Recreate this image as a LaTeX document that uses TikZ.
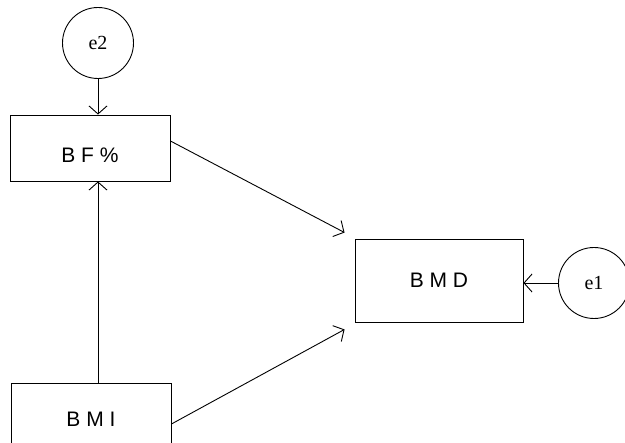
\documentclass[tikz,border=0pt]{standalone}
\usepackage{fontspec}
\setmainfont{Liberation Serif}
\setsansfont{Liberation Sans}
\usetikzlibrary{arrows.meta,shapes,positioning}
\tikzstyle{var} = [shape=rectangle, draw, anchor=center,
		line width=0.9pt, align=center,
		font=\sffamily\fontsize{21}{24}\selectfont]
\tikzstyle{err} = [shape=circle, draw, anchor=center,
		line width=0.9pt, minimum size=71pt, inner sep=0pt,
		font=\fontsize{20}{24}\selectfont]

\begin{document}
\begin{tikzpicture}[x=1pt, y=-1pt]
	\useasboundingbox (0,0) rectangle (625,443);
	\node[err] (e2) at (98,43) {e2};
	\node[var, minimum width=160pt, minimum height=66pt,
		text height=29pt, text depth=0pt] (bf) at (90,148) {B F \%};
	\node[var, minimum width=168pt, minimum height=83pt] (bmd) at (439,280.5) {B M D};
	\node[err] (e1) at (594,283) {e1};
	\node[var, minimum width=160pt, minimum height=66pt,
		text height=22pt, text depth=0pt] (bmi) at (91,416) {B M I};

	\path [line width=0.9pt, >={Straight Barb[length=8pt,width=18pt]}, ->]
		(e2.south) edge (e2.south |- bf.north)
		(bmi.north -| e2.south) edge (bf.south -| e2.south)
		([yshift=7pt]bf.east) edge ([xshift=-10pt,yshift=6pt]bmd.north west)
		([yshift=-8pt]bmi.east) edge ([xshift=-10pt,yshift=-7pt]bmd.south west)
		(e1.west) edge (e1.west -| bmd.east);
\end{tikzpicture}
\end{document}
